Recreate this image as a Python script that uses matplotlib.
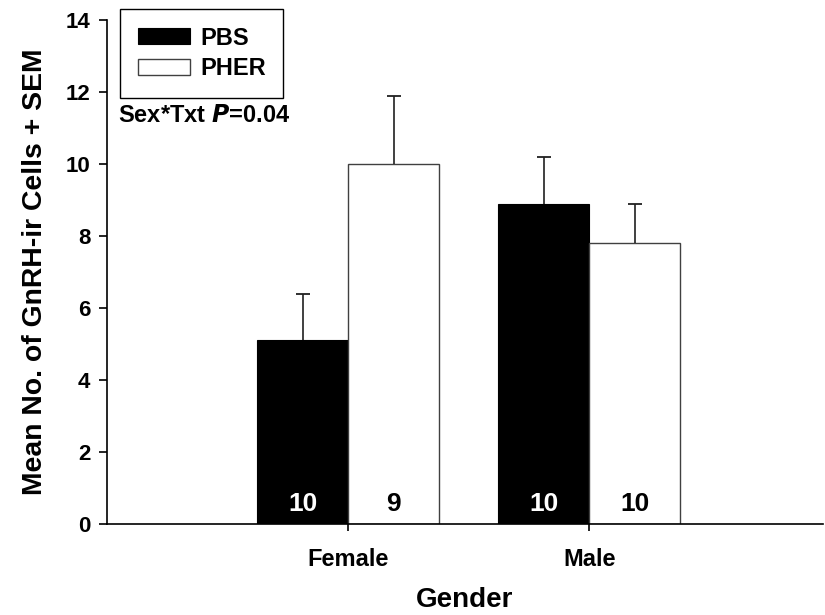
import matplotlib
matplotlib.use("Agg")
import matplotlib.pyplot as plt
import numpy as np

plt.rcParams["font.family"] = ["Liberation Sans", "DejaVu Sans"]
plt.rcParams["font.weight"] = "bold"

genders = ["Female", "Male"]
pbs_mean = [5.1, 8.9]
pbs_sem = [1.3, 1.3]
pher_mean = [10.0, 7.8]
pher_sem = [1.9, 1.1]
pbs_n = [10, 10]
pher_n = [9, 10]

x = np.arange(len(genders))
width = 0.378

fig = plt.figure(figsize=(8.25, 6.15), dpi=100)
ax = fig.add_axes([107 / 825, 91 / 615, 716 / 825, 504 / 615])

ax.bar(x - width / 2, pbs_mean, width, color="black", edgecolor="black",
       linewidth=0.8, label="PBS", zorder=2)
ax.bar(x + width / 2, pher_mean, width, color="white", edgecolor="#404040",
       linewidth=1.0, label="PHER", zorder=2)

# upper-only SEM whiskers with a cap at the top
for xs, m, s in ((x - width / 2, pbs_mean, pbs_sem), (x + width / 2, pher_mean, pher_sem)):
    tops = np.array(m) + np.array(s)
    ax.vlines(xs, m, tops, color="#202020", linewidth=1.2, zorder=3)
    ax.plot(xs, tops, linestyle="none", marker="_", markersize=10.5,
            markeredgewidth=1.3, color="#202020", zorder=3)

# sample sizes inside the bars
for xi, n in zip(x - width / 2, pbs_n):
    ax.text(xi, 0.55, str(n), color="white", ha="center", va="center",
            fontsize=19, fontweight="bold", zorder=4)
for xi, n in zip(x + width / 2, pher_n):
    ax.text(xi, 0.55, str(n), color="black", ha="center", va="center",
            fontsize=19, fontweight="bold", zorder=4)

ax.set_xlim(-1.0, 1.97)
ax.set_ylim(0, 14)
ax.set_yticks(np.arange(0, 15, 2))
ax.set_xticks(x)
ax.set_xticklabels(genders)
ax.spines["top"].set_visible(False)
ax.spines["right"].set_visible(False)
for s in ("left", "bottom"):
    ax.spines[s].set_linewidth(1.2)
ax.tick_params(axis="y", labelsize=16, length=6, width=1.2, pad=6)
ax.tick_params(axis="x", labelsize=17, length=5, width=1.2, pad=12)
for lbl in ax.get_xticklabels() + ax.get_yticklabels():
    lbl.set_fontweight("bold")

ax.set_xlabel("Gender", fontsize=20, fontweight="bold", labelpad=12)
ax.set_ylabel("Mean No. of GnRH-ir Cells + SEM", fontsize=20.4,
              fontweight="bold", labelpad=13)

leg = ax.legend(loc="upper left", bbox_to_anchor=(0.018, 1.022),
                borderaxespad=0, fancybox=False, edgecolor="black",
                framealpha=1, fontsize=17, handlelength=2.2, handleheight=0.67,
                borderpad=0.75, labelspacing=0.32, handletextpad=0.45)
leg.get_frame().set_linewidth(1.0)
for t in leg.get_texts():
    t.set_fontweight("bold")

ax.text(0.016, 0.81, r"Sex*Txt $\bf\it{P}$=0.04", transform=ax.transAxes,
        fontsize=17, fontweight="bold", ha="left", va="center")

fig.savefig("out.png", dpi=100)
